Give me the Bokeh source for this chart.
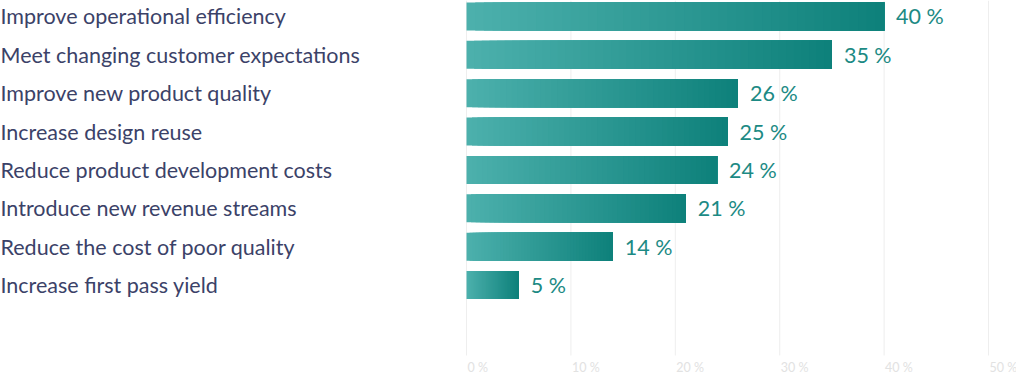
from bokeh.plotting import figure
from bokeh.models import ColumnDataSource, Range1d, LabelSet
from bokeh.core.properties import value
from bokeh.embed import file_html
from bokeh.resources import INLINE

categories = [
    "Improve operational efficiency",
    "Meet changing customer expectations",
    "Improve new product quality",
    "Increase design reuse",
    "Reduce product development costs",
    "Introduce new revenue streams",
    "Reduce the cost of poor quality",
    "Increase first pass yield",
]
values = [40, 35, 26, 25, 24, 21, 14, 5]
tick_values = [0, 10, 20, 30, 40, 50]
tick_labels = ["0 %", "10 %", "20 %", "30 %", "40 %", "50 %"]

ys = list(range(len(categories)))
src = ColumnDataSource(dict(
    y=ys, v=values, cat=categories,
    vl=[f"{v} %" for v in values],
    zero=[0] * len(values),
))

Y_TOP = -0.417
Y_BOTTOM = 9.463
Y_GRID_END = 8.837
Y_TICK = 9.16

p = figure(width=1016, height=379, output_backend="svg", toolbar_location=None,
           x_range=Range1d(-44.64, 52.68), y_range=Range1d(Y_BOTTOM, Y_TOP),
           min_border=0, y_axis_location=None, x_axis_location=None)
p.outline_line_color = None
p.background_fill_color = "white"
p.border_fill_color = "white"
p.grid.visible = False

# vertical grid lines and tick labels (left aligned at each gridline)
tsrc = ColumnDataSource(dict(
    x=tick_values, lab=tick_labels,
    y0=[Y_TOP] * len(tick_values), y1=[Y_GRID_END] * len(tick_values),
    yt=[Y_TICK] * len(tick_values),
))
p.segment(x0="x", x1="x", y0="y0", y1="y1", source=tsrc,
          line_color="#eeeeee", line_width=1)
p.text(x="x", y="yt", text="lab", source=tsrc, x_offset=1,
       text_align="left", text_baseline="middle",
       text_font=value("Lato"), text_font_size=value("12.5px"),
       text_color="#e2e2e2")

# gradient bars: overlapping slices from light (left) to dark (right)
c0 = (76, 176, 172)
c1 = (14, 129, 123)
N = 48
for k in range(N):
    t = k / (N - 1)
    col = "#%02x%02x%02x" % tuple(round(a + (b - a) * t) for a, b in zip(c0, c1))
    p.hbar(y=ys, left=[v * k / N for v in values], right=values, height=0.73,
           fill_color=col, line_color=None)

cat_labels = LabelSet(x="zero", y="y", text="cat", source=src, x_units="screen",
                      x_offset=0, text_align="left", text_baseline="middle",
                      text_font=value("Lato"), text_font_size=value("21.5px"),
                      text_color=value("#3b4268"))
p.add_layout(cat_labels)

val_labels = LabelSet(x="v", y="y", text="vl", source=src, x_offset=12,
                      text_align="left", text_baseline="middle",
                      text_font=value("Lato"), text_font_size=value("21.5px"),
                      text_color=value("#1c8a84"))
p.add_layout(val_labels)

open("out.html", "w").write(file_html(p, INLINE))
